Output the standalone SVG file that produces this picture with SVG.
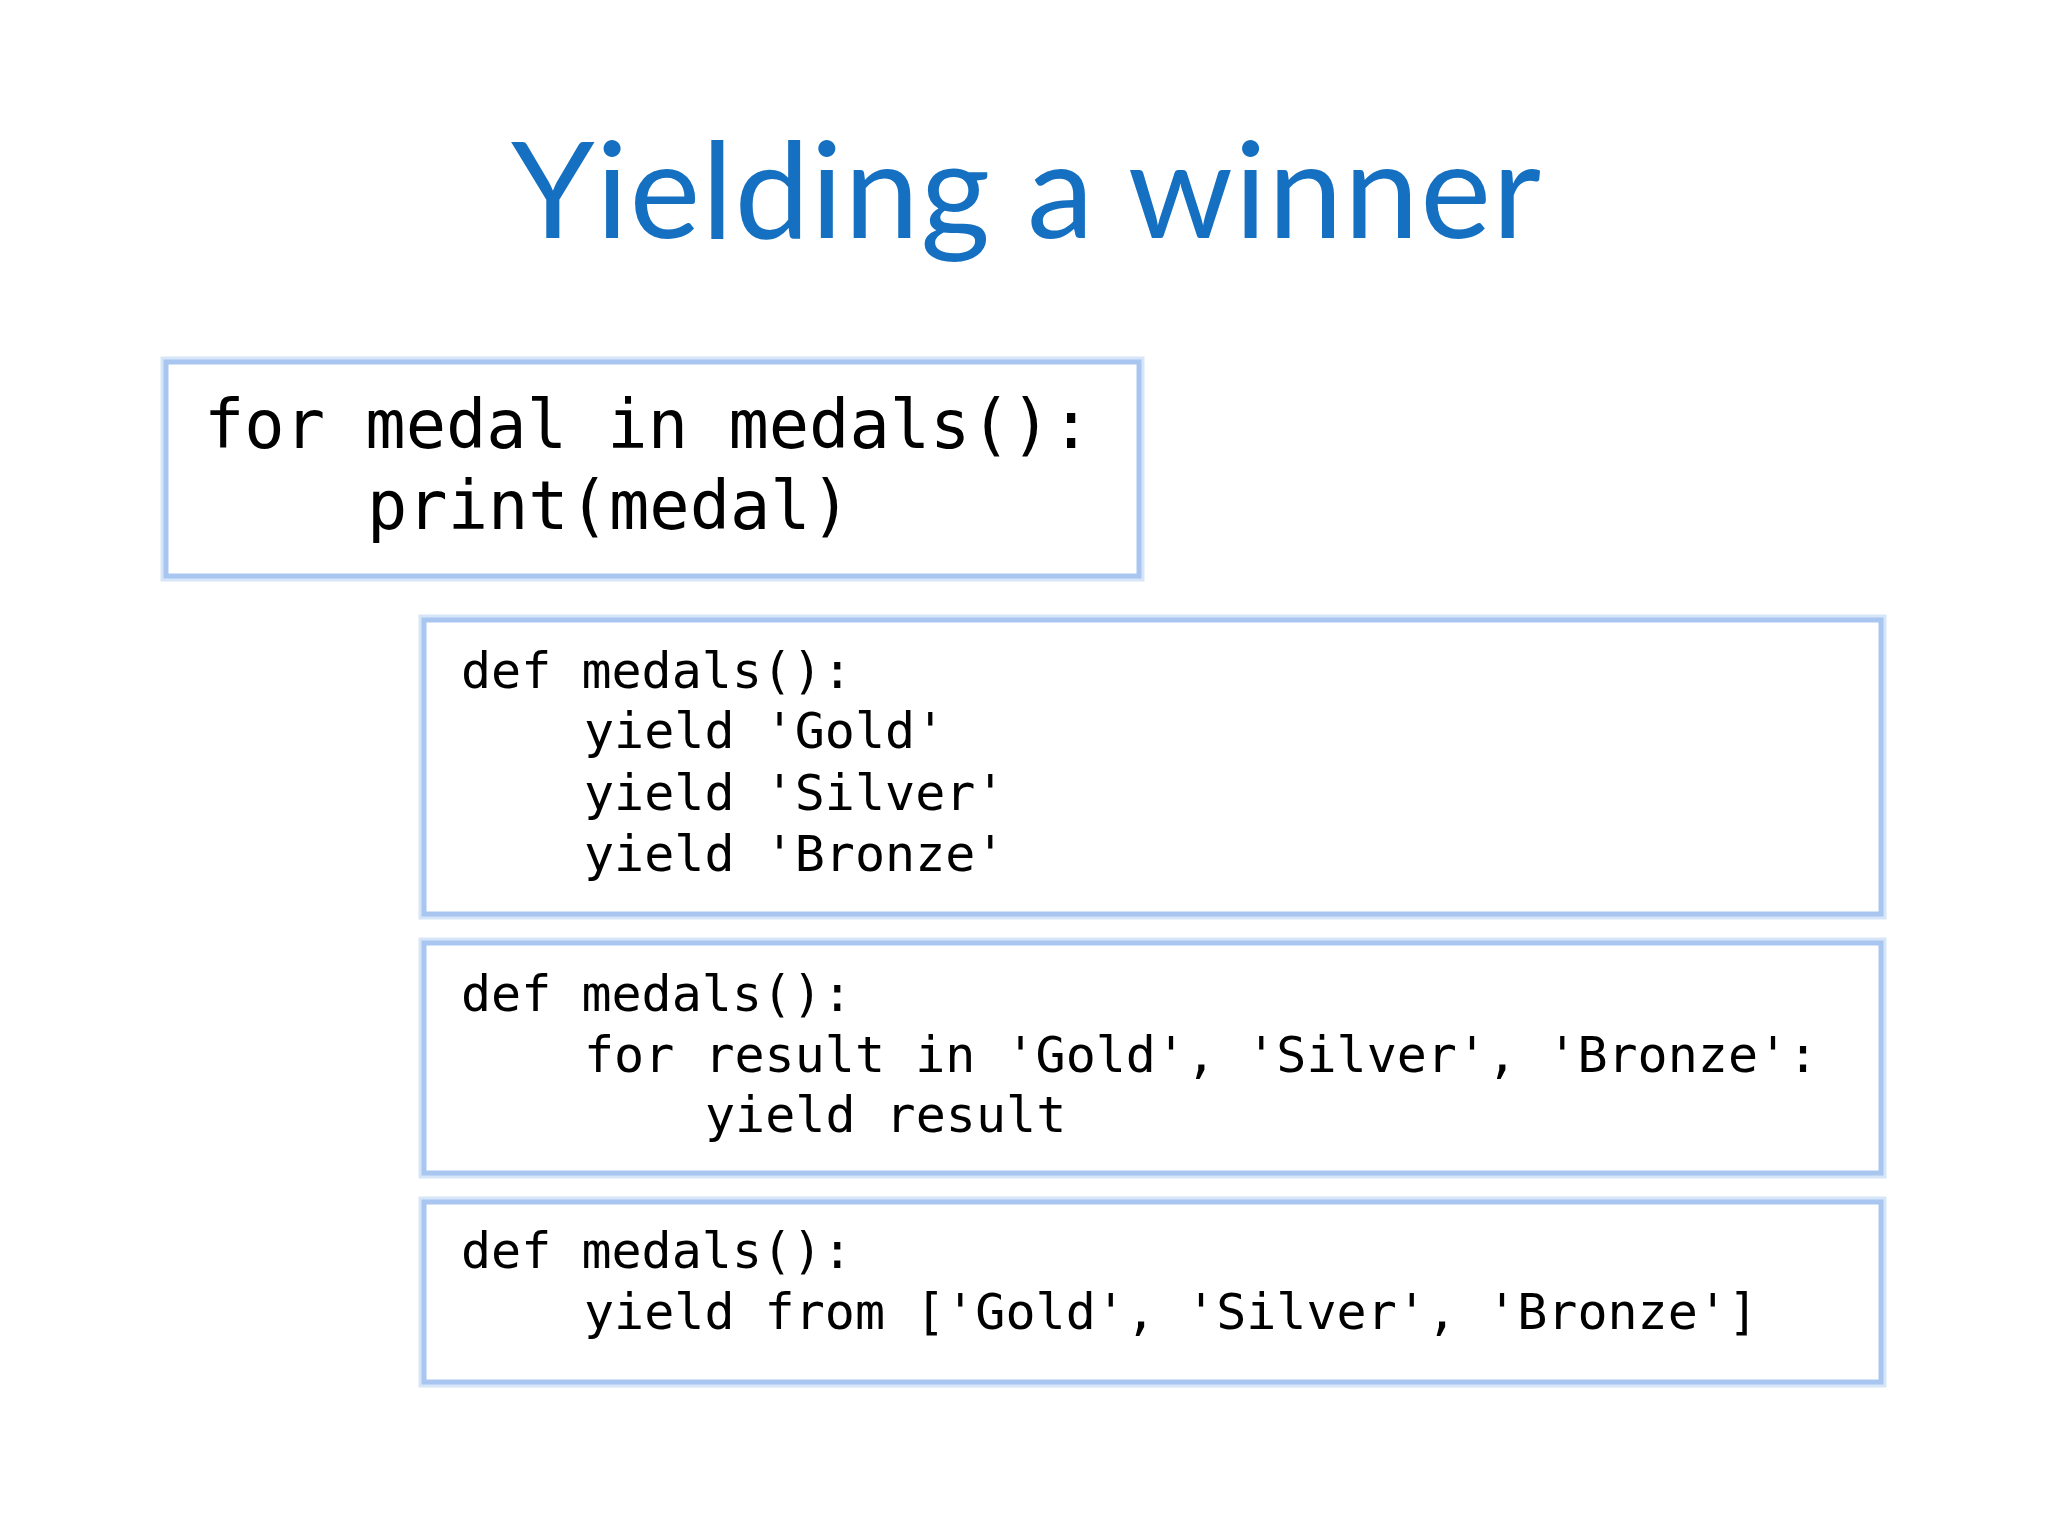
<svg xmlns="http://www.w3.org/2000/svg" width="2048" height="1536" viewBox="0 0 2048 1536">
<style>
.box{fill:#fff;stroke:#a8c6ef;stroke-width:5}
.glow{fill:none;stroke:#d6e5f8;stroke-width:11}
.code{font-family:"DejaVu Sans Mono",monospace;fill:#000}
.big{font-size:67px}
.sm{font-size:50px}
</style>
<rect width="2048" height="1536" fill="#fff"/>
<text x="1026" y="238" text-anchor="middle" font-family="Lato, sans-serif" font-size="134" fill="#1570c2" textLength="1030">Yielding a winner</text>
<g id="loop">
<rect class="glow" x="166" y="362" width="973" height="214"/>
<rect class="box" x="166" y="362" width="973" height="214"/>
<text class="code big" x="204" y="448" xml:space="preserve">for medal in medals():</text>
<text class="code big" x="367" y="529">print(medal)</text>
</g>
<g id="v1">
<rect class="glow" x="424" y="620" width="1457" height="294"/>
<rect class="box" x="424" y="620" width="1457" height="294"/>
<text class="code sm" x="461" y="688">def medals():</text>
<text class="code sm" x="584" y="748">yield 'Gold'</text>
<text class="code sm" x="584" y="810">yield 'Silver'</text>
<text class="code sm" x="584" y="871">yield 'Bronze'</text>
</g>
<g id="v2">
<rect class="glow" x="424" y="943" width="1457" height="230"/>
<rect class="box" x="424" y="943" width="1457" height="230"/>
<text class="code sm" x="461" y="1011">def medals():</text>
<text class="code sm" x="584" y="1072" xml:space="preserve">for result in 'Gold', 'Silver', 'Bronze':</text>
<text class="code sm" x="705" y="1132">yield result</text>
</g>
<g id="v3">
<rect class="glow" x="424" y="1202" width="1457" height="180"/>
<rect class="box" x="424" y="1202" width="1457" height="180"/>
<text class="code sm" x="461" y="1268">def medals():</text>
<text class="code sm" x="584" y="1329" xml:space="preserve">yield from ['Gold', 'Silver', 'Bronze']</text>
</g>
<g id="connectors"/>
</svg>
